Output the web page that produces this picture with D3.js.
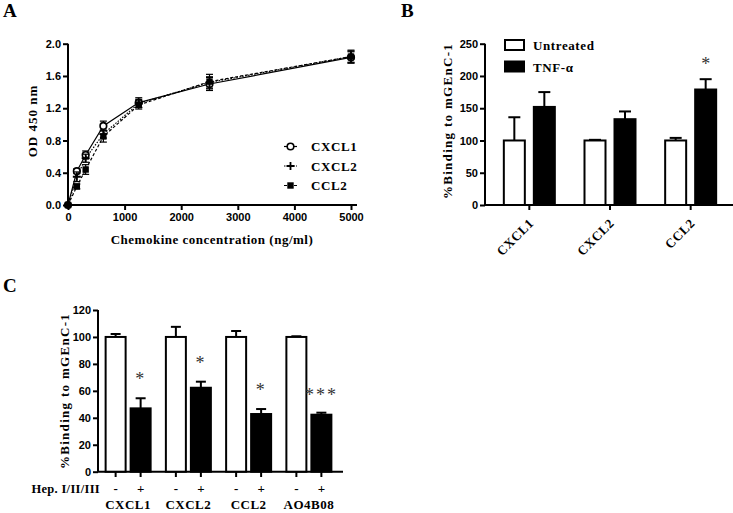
<!DOCTYPE html>
<html><head><meta charset="utf-8">
<script src="https://cdn.jsdelivr.net/npm/d3@7"></script>
<style>
body{margin:0;background:#fff}
svg{display:block}
.tick text{font-family:"Liberation Sans",Arial,sans-serif;font-weight:bold;font-size:11px;fill:#000}
.serif{font-family:"Liberation Serif","Times New Roman",serif;font-weight:bold;fill:#000}
</style></head><body><svg id="c" width="733" height="513"></svg>
<script>
// ---------- Panel A data ----------
const concentrations = [0, 156, 312, 625, 1250, 2500, 5000];
const cxcl1OD  = [0, 0.42, 0.62, 0.98, 1.27, 1.50, 1.83];
const cxcl1Err = [0, 0.03, 0.05, 0.06, 0.06, 0.08, 0.07];
const cxcl2OD  = [0, 0.35, 0.58, 0.88, 1.26, 1.52, 1.84];
const cxcl2Err = [0, 0.06, 0.05, 0.05, 0.05, 0.07, 0.07];
const ccl2OD   = [0, 0.23, 0.44, 0.85, 1.24, 1.53, 1.84];
const ccl2Err  = [0, 0.03, 0.06, 0.07, 0.05, 0.09, 0.08];
const seriesA  = ["CXCL1", "CXCL2", "CCL2"];
const xTicksA  = [0, 1000, 2000, 3000, 4000, 5000];
const yTicksA  = [0, 0.4, 0.8, 1.2, 1.6, 2.0];

// ---------- Panel B data ----------
const categoriesB = ["CXCL1", "CXCL2", "CCL2"];
const groupsB     = ["Untreated", "TNF-α"];
const untreatedB  = [100, 100, 100];
const untreatedBErr = [36, 1, 4];
const tnfB        = [152, 133, 179];
const tnfBErr     = [23, 12, 16];
const starsB      = ["", "", "*"];
const yTicksB     = [0, 50, 100, 150, 200, 250];

// ---------- Panel C data ----------
const categoriesC = ["CXCL1", "CXCL2", "CCL2", "AO4B08"];
const treatC      = ["-", "+"];
const controlC    = [100, 100, 100, 100];
const controlCErr = [2.2, 7.5, 4.4, 0.5];
const hepC        = [47, 62.3, 42.8, 42.3];
const hepCErr     = [7.5, 4.5, 3.7, 1.5];
const starsC      = ["*", "*", "*", "***"];
const starYC      = [70, 82.4, 62, 58.6];
const yTicksC     = [0, 20, 40, 60, 80, 100, 120];

const svg = d3.select("#c");
const serif = sel => sel.attr("class", "serif");

function styleAxis(g) {
  g.selectAll(".domain").remove();
  g.selectAll(".tick line").attr("stroke", "#000").attr("stroke-width", 2);
}
function line(g, x1, y1, x2, y2, w) {
  g.append("line").attr("x1", x1).attr("y1", y1).attr("x2", x2).attr("y2", y2)
    .attr("stroke", "#000").attr("stroke-width", w || 2);
}

// ================= Panel A =================
{
  const g = svg.append("g");
  const x = d3.scaleLinear().domain([0, 5000]).range([68, 351]);
  const y = d3.scaleLinear().domain([0, 2]).range([205, 43.7]);

  g.append("g").attr("transform", "translate(0,205)")
    .call(d3.axisBottom(x).tickValues(xTicksA).tickSize(5).tickPadding(3).tickFormat(d3.format("d")))
    .call(styleAxis);
  g.append("g").attr("transform", "translate(68,0)")
    .call(d3.axisLeft(y).tickValues(yTicksA).tickSize(5).tickPadding(2).tickFormat(d3.format(".1f")))
    .call(styleAxis);
  line(g, 68, 205, 357, 205);
  line(g, 68, 205, 68, y(2));

  const data = [
    {name: seriesA[0], v: cxcl1OD, e: cxcl1Err, dash: null},
    {name: seriesA[1], v: cxcl2OD, e: cxcl2Err, dash: "1.5,1.5"},
    {name: seriesA[2], v: ccl2OD,  e: ccl2Err,  dash: "3,2"}
  ];
  const lineGen = d3.line().x(d => x(d[0])).y(d => y(d[1]));

  function marker(sel, name, cx, cy) {
    if (name === "CXCL1") {
      sel.append("circle").attr("cx", cx).attr("cy", cy).attr("r", 3.3)
        .attr("fill", "#fff").attr("stroke", "#000").attr("stroke-width", 1.6);
    } else if (name === "CXCL2") {
      sel.append("path").attr("d", `M${cx-4},${cy}H${cx+4}M${cx},${cy-4}V${cy+4}`)
        .attr("stroke", "#000").attr("stroke-width", 1.8);
    } else {
      sel.append("rect").attr("x", cx-3.2).attr("y", cy-3.2).attr("width", 6.4).attr("height", 6.4).attr("fill", "#000");
    }
  }

  data.forEach(s => {
    const pts = concentrations.map((c, i) => [c, s.v[i], s.e[i]]);
    g.append("path").datum(pts).attr("d", lineGen).attr("fill", "none")
      .attr("stroke", "#000").attr("stroke-width", 1.2).attr("stroke-dasharray", s.dash);
    pts.forEach(p => {
      if (p[2] > 0) {
        line(g, x(p[0]), y(p[1] - p[2]), x(p[0]), y(p[1] + p[2]), 1.2);
        line(g, x(p[0]) - 3.5, y(p[1] + p[2]), x(p[0]) + 3.5, y(p[1] + p[2]), 1.2);
        line(g, x(p[0]) - 3.5, y(p[1] - p[2]), x(p[0]) + 3.5, y(p[1] - p[2]), 1.2);
      }
    });
    pts.forEach(p => marker(g, s.name, x(p[0]), y(p[1])));
  });

  // legend
  data.forEach((s, i) => {
    const ly = 146.5 + i * 19.5;
    g.append("line").attr("x1", 284).attr("x2", 297).attr("y1", ly).attr("y2", ly)
      .attr("stroke", "#000").attr("stroke-width", 1.2).attr("stroke-dasharray", s.dash);
    marker(g, s.name, 290.5, ly);
    g.append("text").call(serif).attr("x", 311).attr("y", ly + 4.5).attr("font-size", 13)
      .attr("letter-spacing", 0.6).text(s.name);
  });

  g.append("text").call(serif).attr("x", 3).attr("y", 17).attr("font-size", 19).text("A");
  g.append("text").call(serif).attr("transform", "translate(37,121) rotate(-90)")
    .attr("text-anchor", "middle").attr("font-size", 13).attr("letter-spacing", 1).text("OD 450 nm");
  g.append("text").call(serif).attr("x", 212).attr("y", 244).attr("text-anchor", "middle")
    .attr("font-size", 13).attr("letter-spacing", 0.5).text("Chemokine concentration (ng/ml)");
}

// ================= Panel B =================
{
  const g = svg.append("g");
  const x0 = d3.scaleBand().domain(categoriesB).range([489, 731]);
  const x1 = d3.scaleBand().domain(groupsB).range([-25.5, 25.5]).paddingInner(0.3);
  const y = d3.scaleLinear().domain([0, 250]).range([205, 43.7]);

  g.append("g").attr("transform", "translate(485,0)")
    .call(d3.axisLeft(y).tickValues(yTicksB).tickSize(5).tickPadding(2))
    .call(styleAxis);
  g.append("g").attr("transform", "translate(0,205)")
    .call(d3.axisBottom(x0).tickSize(5).tickFormat(""))
    .call(styleAxis);
  line(g, 485, 205, 733, 205);
  line(g, 485, 205, 485, y(250));

  const rows = categoriesB.map((c, i) => ({c, vals: [
    {k: groupsB[0], v: untreatedB[i], e: untreatedBErr[i], fill: "#fff"},
    {k: groupsB[1], v: tnfB[i], e: tnfBErr[i], fill: "#000"}], star: starsB[i]}));

  rows.forEach(r => {
    const cx = x0(r.c) + x0.bandwidth() / 2;
    r.vals.forEach(b => {
      const bx = cx + x1(b.k);
      const mx = bx + x1.bandwidth() / 2;
      line(g, mx, y(b.v), mx, y(b.v + b.e));
      line(g, mx - 6, y(b.v + b.e), mx + 6, y(b.v + b.e));
      g.append("rect").attr("x", bx).attr("y", y(b.v)).attr("width", x1.bandwidth())
        .attr("height", y(0) - y(b.v)).attr("fill", b.fill).attr("stroke", "#000").attr("stroke-width", 2);
    });
    if (r.star) {
      const b = r.vals[1];
      g.append("text").attr("x", cx + x1(b.k) + x1.bandwidth() / 2).attr("y", y(b.v + b.e) - 9)
        .attr("text-anchor", "middle").attr("font-family", "Liberation Serif, serif")
        .attr("font-size", 18).attr("fill", "#333").text(r.star);
    }
    g.append("text").call(serif).attr("text-anchor", "end").attr("font-size", 13).attr("letter-spacing", 0.5)
      .attr("transform", `translate(${cx + 5},${224}) rotate(-45)`).text(r.c);
  });

  // legend
  groupsB.forEach((k, i) => {
    const ly = 45 + i * 21.5;
    g.append("rect").attr("x", 505).attr("y", ly - 5).attr("width", 19).attr("height", 10)
      .attr("fill", i ? "#000" : "#fff").attr("stroke", "#000").attr("stroke-width", 2);
    g.append("text").call(serif).attr("x", 533).attr("y", ly + 5).attr("font-size", 13)
      .attr("letter-spacing", 0.6).text(k);
  });

  g.append("text").call(serif).attr("x", 401).attr("y", 17).attr("font-size", 19).text("B");
  g.append("text").call(serif).attr("transform", "translate(452,121) rotate(-90)")
    .attr("text-anchor", "middle").attr("font-size", 13).attr("letter-spacing", 1.3).text("%Binding to mGEnC-1");
}

// ================= Panel C =================
{
  const g = svg.append("g");
  const x0 = d3.scaleBand().domain(categoriesC).range([98, 339]);
  const x1 = d3.scaleBand().domain(treatC).range([-22.5, 22.5]).paddingInner(0.2);
  const y = d3.scaleLinear().domain([0, 120]).range([471.7, 310]);

  g.append("g").attr("transform", "translate(98,0)")
    .call(d3.axisLeft(y).tickValues(yTicksC).tickSize(5).tickPadding(2))
    .call(styleAxis);
  line(g, 98, 471.7, 343, 471.7);
  line(g, 98, 471.7, 98, y(120));

  categoriesC.forEach((c, i) => {
    const cx = x0(c) + x0.bandwidth() / 2;
    const bars = [
      {k: treatC[0], v: controlC[i], e: controlCErr[i], fill: "#fff"},
      {k: treatC[1], v: hepC[i], e: hepCErr[i], fill: "#000"}];
    bars.forEach(b => {
      const bx = cx + x1(b.k);
      const mx = bx + x1.bandwidth() / 2;
      line(g, mx, y(b.v), mx, y(b.v + b.e));
      line(g, mx - 5, y(b.v + b.e), mx + 5, y(b.v + b.e));
      g.append("rect").attr("x", bx).attr("y", y(b.v)).attr("width", x1.bandwidth())
        .attr("height", y(0) - y(b.v)).attr("fill", b.fill).attr("stroke", "#000").attr("stroke-width", 2);
      line(g, mx, 471.7, mx, 477);
      g.append("text").call(serif).attr("x", mx).attr("y", 493).attr("text-anchor", "middle")
        .attr("font-size", 13).text(b.k);
    });
    const sx = cx + x1(treatC[1]) + x1.bandwidth() / 2;
    g.append("text").attr("x", sx).attr("y", y(starYC[i]) + 8).attr("text-anchor", "middle")
      .attr("font-family", "Liberation Serif, serif").attr("font-size", 18).attr("letter-spacing", 2)
      .attr("fill", "#333").text(starsC[i]);
    g.append("text").call(serif).attr("x", cx).attr("y", 509).attr("text-anchor", "middle")
      .attr("font-size", 13).attr("letter-spacing", 0.5).text(c);
  });

  g.append("text").call(serif).attr("x", 100).attr("y", 493).attr("text-anchor", "end")
    .attr("font-size", 12.5).attr("letter-spacing", 0.3).text("Hep. I/II/III");
  g.append("text").call(serif).attr("x", 3).attr("y", 292).attr("font-size", 19).text("C");
  g.append("text").call(serif).attr("transform", "translate(69,391) rotate(-90)")
    .attr("text-anchor", "middle").attr("font-size", 13).attr("letter-spacing", 1.3).text("%Binding to mGEnC-1");
}
</script></body></html>
